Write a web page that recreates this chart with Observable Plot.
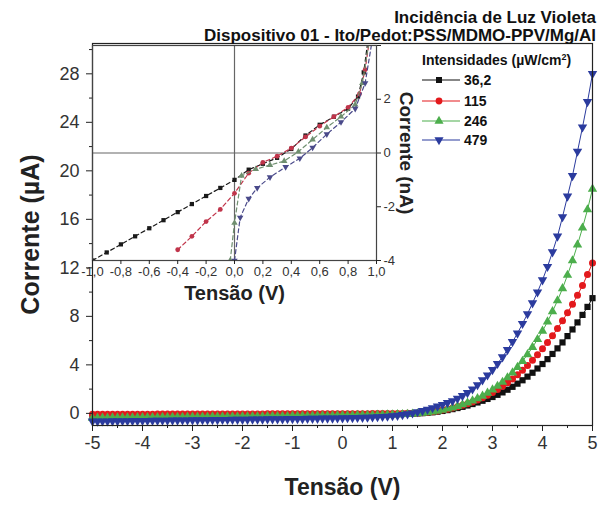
<!DOCTYPE html>
<html><head><meta charset="utf-8">
<script src="https://cdn.jsdelivr.net/npm/d3@7"></script>
<script src="https://cdn.jsdelivr.net/npm/@observablehq/plot@0.6"></script>
<style>
body{margin:0;background:#fff;}
#wrap{position:relative;width:599px;height:508px;overflow:hidden;font-family:"Liberation Sans",Arial,sans-serif;color:#111;}
#wrap svg.plot{position:absolute;left:0;top:0;}
.title{position:absolute;right:3px;font-weight:bold;font-size:17px;line-height:19px;white-space:nowrap;}
.legtitle{position:absolute;left:422px;top:49px;font-weight:bold;font-size:14px;line-height:16px;white-space:nowrap;}
.legrow{position:absolute;left:420px;height:16px;display:flex;align-items:center;font-weight:bold;font-size:14px;white-space:nowrap;}
.legrow svg{margin-right:2px;}
</style>
</head><body>
<div id="wrap">
  <div class="title" style="top:8px">Incidência de Luz Violeta</div>
  <div class="title" style="top:26px">Dispositivo 01 - Ito/Pedot:PSS/MDMO-PPV/Mg/Al</div>
</div>
<script>
// ---------- main chart data ----------
const voltage = [
-5,-4.9,-4.8,-4.7,-4.6,-4.5,-4.4,-4.3,-4.2,-4.1,
-4,-3.9,-3.8,-3.7,-3.6,-3.5,-3.4,-3.3,-3.2,-3.1,
-3,-2.9,-2.8,-2.7,-2.6,-2.5,-2.4,-2.3,-2.2,-2.1,
-2,-1.9,-1.8,-1.7,-1.6,-1.5,-1.4,-1.3,-1.2,-1.1,
-1,-0.9,-0.8,-0.7,-0.6,-0.5,-0.4,-0.3,-0.2,-0.1,
0,0.1,0.2,0.3,0.4,0.5,0.6,0.7,0.8,0.9,
1,1.1,1.2,1.3,1.4,1.5,1.6,1.7,1.8,1.9,
2,2.1,2.2,2.3,2.4,2.5,2.6,2.7,2.8,2.9,
3,3.1,3.2,3.3,3.4,3.5,3.6,3.7,3.8,3.9,
4,4.1,4.2,4.3,4.4,4.5,4.6,4.7,4.8,4.9,
5];
const current36 = [
-0.28,-0.27,-0.27,-0.26,-0.26,-0.25,-0.25,-0.25,-0.24,-0.24,
-0.24,-0.23,-0.23,-0.23,-0.22,-0.22,-0.22,-0.21,-0.21,-0.21,
-0.21,-0.20,-0.20,-0.20,-0.20,-0.19,-0.19,-0.19,-0.19,-0.18,
-0.18,-0.18,-0.18,-0.17,-0.17,-0.17,-0.17,-0.16,-0.16,-0.16,
-0.16,-0.15,-0.15,-0.15,-0.14,-0.14,-0.14,-0.13,-0.13,-0.13,
-0.12,-0.12,-0.12,-0.11,-0.11,-0.10,-0.10,-0.09,-0.09,-0.08,
-0.07,-0.06,-0.05,-0.04,-0.02,
0.0,0.02,0.05,0.09,0.14,0.2,0.27,0.35,0.44,0.54,0.65,0.77,0.9,1.04,1.19,1.35,1.53,1.73,1.95,2.19,
2.45,2.73,3.03,3.35,3.7,4.07,4.47,4.9,5.36,5.85,6.37,6.92,7.5,8.12,8.78,9.5];
const current115 = [
-0.08,-0.08,-0.08,-0.08,-0.07,-0.07,-0.07,-0.07,-0.07,-0.07,
-0.07,-0.07,-0.07,-0.06,-0.06,-0.06,-0.06,-0.06,-0.06,-0.06,
-0.06,-0.06,-0.06,-0.06,-0.05,-0.05,-0.05,-0.05,-0.05,-0.05,
-0.05,-0.05,-0.05,-0.05,-0.05,-0.04,-0.04,-0.04,-0.04,-0.04,
-0.04,-0.04,-0.04,-0.04,-0.04,-0.04,-0.04,-0.03,-0.03,-0.03,
-0.03,-0.03,-0.03,-0.03,-0.03,-0.03,-0.02,-0.02,-0.02,-0.02,
-0.02,-0.01,-0.01,0.0,0.01,
0.02,0.05,0.09,0.14,0.2,0.27,0.35,0.44,0.54,0.66,0.79,0.94,1.1,1.28,1.5,1.72,1.96,2.23,2.52,2.84,
3.18,3.55,3.95,4.38,4.84,5.33,5.85,6.4,7.0,7.63,8.3,9.0,9.75,10.55,11.45,12.4];
const current246 = [
-0.38,-0.38,-0.37,-0.37,-0.36,-0.36,-0.35,-0.35,-0.35,-0.34,
-0.34,-0.33,-0.33,-0.33,-0.32,-0.32,-0.31,-0.31,-0.31,-0.30,
-0.30,-0.30,-0.29,-0.29,-0.28,-0.28,-0.28,-0.27,-0.27,-0.27,
-0.26,-0.26,-0.25,-0.25,-0.25,-0.24,-0.24,-0.23,-0.23,-0.23,
-0.22,-0.22,-0.21,-0.21,-0.21,-0.20,-0.20,-0.19,-0.19,-0.18,
-0.18,-0.17,-0.17,-0.16,-0.16,-0.15,-0.14,-0.13,-0.12,-0.11,
-0.10,-0.09,-0.08,-0.06,-0.04,
-0.02,0.02,0.07,0.13,0.2,0.28,0.37,0.47,0.59,0.72,0.87,1.04,1.23,1.44,1.68,1.95,2.25,2.58,2.95,3.35,
3.8,4.3,4.85,5.45,6.1,6.8,7.55,8.4,9.3,10.3,11.4,12.6,13.9,15.3,16.8,18.5];
const current479 = [
-0.65,-0.65,-0.64,-0.64,-0.63,-0.63,-0.62,-0.62,-0.61,-0.61,
-0.60,-0.60,-0.59,-0.59,-0.58,-0.58,-0.57,-0.57,-0.56,-0.56,
-0.55,-0.55,-0.54,-0.54,-0.53,-0.53,-0.52,-0.52,-0.51,-0.51,
-0.50,-0.50,-0.49,-0.49,-0.48,-0.47,-0.47,-0.46,-0.46,-0.45,
-0.45,-0.44,-0.44,-0.43,-0.42,-0.42,-0.41,-0.40,-0.40,-0.39,
-0.38,-0.37,-0.36,-0.35,-0.34,-0.33,-0.31,-0.29,-0.27,-0.25,
-0.21,-0.17,-0.11,
-0.05,0.02,0.12,0.22,0.33,0.45,0.58,0.72,0.87,1.03,1.22,1.45,1.7,2.0,2.35,2.75,3.15,3.6,4.1,4.65,
5.25,5.9,6.6,7.4,8.2,9.1,10.0,11.0,12.1,13.3,14.6,16.2,17.9,19.6,21.6,23.6,25.7,28.0];

const seriesNames = ["36,2","115","246","479"];
const seriesColors = ["#111111","#e3191c","#4cae4c","#2b3b9e"];
const insetColors = ["#1a1a1a","#c0344a","#6f8f6f","#4a4a8a"];

// ticks
const yTicks = [0,4,8,12,16,20,24,28];
const yMinorTicks = [2,6,10,14,18,22,26,30];
const xTicks = [-5,-4,-3,-2,-1,0,1,2,3,4,5];
const xMinorTicks = [-4.5,-3.5,-2.5,-1.5,-0.5,0.5,1.5,2.5,3.5,4.5];

// ---------- inset data ----------
const insetV36 = [-1.0,-0.9,-0.8,-0.7,-0.6,-0.5,-0.4,-0.3,-0.2,-0.1,0.0,0.1,0.2,0.3,0.4,0.5,0.6,0.7,0.8,0.87,0.91,0.94];
const insetI36 = [-4.0,-3.7,-3.4,-3.1,-2.8,-2.5,-2.2,-1.9,-1.6,-1.3,-1.0,-0.62,-0.4,-0.18,0.15,0.65,1.05,1.35,1.65,2.1,3.0,4.2];
const insetV115 = [-0.4,-0.3,-0.2,-0.1,0.0,0.1,0.2,0.3,0.4,0.5,0.6,0.7,0.8,0.88,0.92,0.95];
const insetI115 = [-3.6,-3.1,-2.55,-2.1,-1.5,-0.75,-0.35,-0.12,0.18,0.6,1.0,1.35,1.7,2.2,3.1,4.2];
const insetV246 = [-0.03,0.0,0.05,0.15,0.25,0.35,0.45,0.55,0.65,0.75,0.85,0.9,0.95];
const insetI246 = [-4.0,-2.6,-0.85,-0.6,-0.45,-0.3,0.05,0.5,0.95,1.35,1.8,2.6,4.2];
const insetV479 = [0.0,0.04,0.1,0.16,0.25,0.36,0.46,0.55,0.65,0.75,0.85,0.92,0.97];
const insetI479 = [-4.0,-2.4,-1.7,-1.3,-0.9,-0.52,-0.2,0.2,0.7,1.15,1.65,2.6,4.2];
const insetXTicks = [-1,-0.8,-0.6,-0.4,-0.2,0,0.2,0.4,0.6,0.8,1];
const insetYTicks = [-4,-2,0,2];
const insetYTopTick = [4];

// ---------- build ----------
const FONT = '"Liberation Sans", Arial, sans-serif';
const sqrt3 = Math.sqrt(3);
const triangleDown = {
  draw(context, size) {
    const y = -Math.sqrt(size / (sqrt3 * 3));
    context.moveTo(0, -y * 2);
    context.lineTo(-sqrt3 * y, y);
    context.lineTo(sqrt3 * y, y);
    context.closePath();
  }
};
const symbols = ["square", "circle", "triangle", triangleDown];
const d3Symbols = [d3.symbolSquare, d3.symbolCircle, d3.symbolTriangle, triangleDown];

const mainCurrents = [current36, current115, current246, current479];
mainCurrents.forEach((arr, k) => { if (arr.length !== voltage.length) throw new Error("length " + k + " " + arr.length); });
const mainSeries = mainCurrents.map((arr, k) => voltage.map((v, i) => ({V: v, I: arr[i], s: seriesNames[k]})));

const insetSeries = [[insetV36, insetI36],[insetV115, insetI115],[insetV246, insetI246],[insetV479, insetI479]]
  .map(([vs, is], k) => vs.map((v, i) => ({V: v, I: is[i], s: seriesNames[k]})));

const mainMarks = [];
mainSeries.forEach((rows, k) => {
  mainMarks.push(Plot.line(rows, {x: "V", y: "I", stroke: seriesColors[k], strokeWidth: 1}));
  mainMarks.push(Plot.dot(rows, {x: "V", y: "I", symbol: symbols[k], fill: seriesColors[k], stroke: "none", r: 3.5}));
});

const main = Plot.plot({
  width: 599, height: 508,
  marginLeft: 92, marginRight: 7, marginTop: 43, marginBottom: 83,
  style: {fontFamily: FONT, background: "transparent", color: "#222", overflow: "visible"},
  x: {domain: [-5, 5]},
  y: {domain: [-1, 30.5]},
  marks: [
    ...mainMarks,
    Plot.frame({stroke: "#222", strokeWidth: 1.2}),
    Plot.axisY({ticks: yTicks, tickSize: 6, tickPadding: 7, fontSize: 18, tickFormat: d => String(d), label: null, fill: "#333"}),
    Plot.axisY({ticks: yMinorTicks, tickSize: 3, text: null, label: null}),
    Plot.axisX({ticks: xTicks, tickSize: 6, tickPadding: 5, fontSize: 18, tickFormat: d => String(d), label: null, fill: "#333"}),
    Plot.axisX({ticks: xMinorTicks, tickSize: 3, text: null, label: null}),
    Plot.text(["Corrente (µA)"], {frameAnchor: "left", dx: -62, rotate: -90, fontSize: 25, fontWeight: "bold", textAnchor: "middle", lineAnchor: "middle", fill: "#222"}),
    Plot.text(["Tensão (V)"], {frameAnchor: "bottom", dy: 62, fontSize: 23, fontWeight: "bold", textAnchor: "middle", lineAnchor: "middle", fill: "#222"})
  ]
});
main.classList.add("plot");

const insetMarks = [];
insetSeries.forEach((rows, k) => {
  insetMarks.push(Plot.line(rows, {x: "V", y: "I", stroke: insetColors[k], strokeWidth: 1.2, strokeDasharray: "4,3", clip: true}));
  insetMarks.push(Plot.dot(rows, {x: "V", y: "I", symbol: symbols[k], fill: insetColors[k], stroke: "none", r: 2.4, clip: true}));
});

const inset = Plot.plot({
  width: 599, height: 508,
  marginLeft: 92, marginRight: 223, marginTop: 45, marginBottom: 248,
  style: {fontFamily: FONT, background: "transparent", color: "#222", overflow: "visible"},
  x: {domain: [-1, 1]},
  y: {domain: [-4, 4]},
  marks: [
    Plot.ruleX([0], {stroke: "#666", strokeWidth: 1.2}),
    Plot.ruleY([0], {stroke: "#666", strokeWidth: 1.2}),
    ...insetMarks,
    Plot.frame({stroke: "#444", strokeWidth: 1.2}),
    Plot.axisX({ticks: insetXTicks, tickSize: 4, tickPadding: 2, fontSize: 13, tickFormat: d => d.toFixed(1).replace(".", ","), label: null, fill: "#333"}),
    Plot.axisY({anchor: "right", ticks: insetYTicks, tickSize: 4, tickPadding: 3, fontSize: 13, tickFormat: d => String(d), label: null, fill: "#333"}),
    Plot.axisY({anchor: "right", ticks: insetYTopTick, tickSize: 4, text: null, label: null}),
    Plot.text(["Tensão (V)"], {frameAnchor: "bottom", dy: 33, fontSize: 20, fontWeight: "bold", textAnchor: "middle", lineAnchor: "middle", fill: "#222"}),
    Plot.text(["Corrente (nA)"], {frameAnchor: "right", dx: 30, rotate: 90, fontSize: 19, fontWeight: "bold", textAnchor: "middle", lineAnchor: "middle", fill: "#222"})
  ]
});
inset.classList.add("plot");

const wrap = document.getElementById("wrap");
wrap.insertBefore(main, wrap.firstChild);
wrap.insertBefore(inset, main.nextSibling);

// legend (HTML)
const lt = document.createElement("div");
lt.className = "legtitle";
lt.innerHTML = "Intensidades (µW/cm<sup style=\"font-size:9px;vertical-align:5px\">2</sup>)";
wrap.appendChild(lt);
const rowTops = [72, 93, 113, 132];
seriesNames.forEach((name, k) => {
  const row = document.createElement("div");
  row.className = "legrow";
  row.style.top = rowTops[k] + "px";
  const svg = d3.create("svg").attr("width", 42).attr("height", 16);
  svg.append("line").attr("x1", 2).attr("x2", 40).attr("y1", 8).attr("y2", 8).attr("stroke", seriesColors[k]).attr("stroke-width", 1.2);
  svg.append("path").attr("transform", "translate(19,8)").attr("d", d3.symbol().type(d3Symbols[k]).size(36)()).attr("fill", seriesColors[k]);
  row.appendChild(svg.node());
  const t = document.createElement("span");
  t.textContent = name;
  row.appendChild(t);
  wrap.appendChild(row);
});
</script>
</body></html>
